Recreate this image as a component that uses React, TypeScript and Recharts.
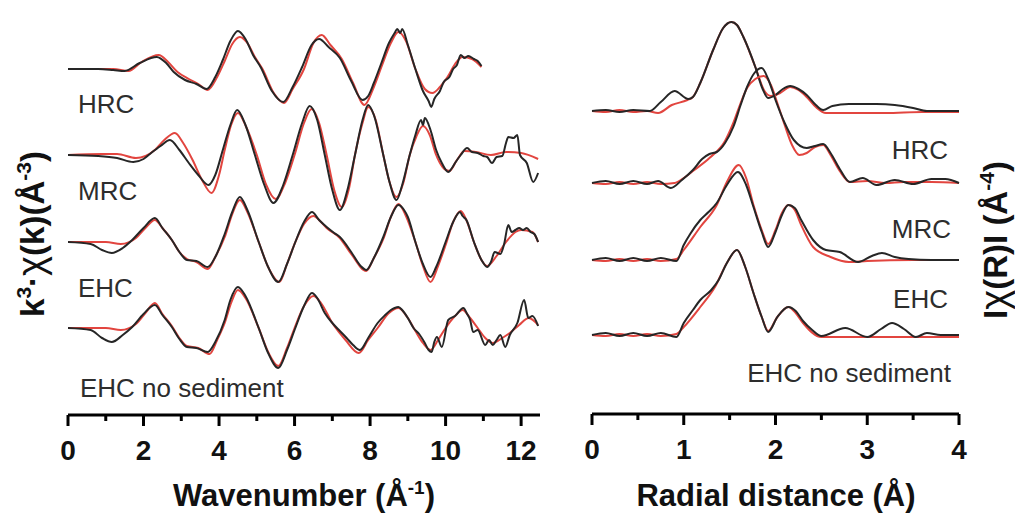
import React from "react";
import { LineChart, Line, XAxis, YAxis } from "recharts";

type Pt = [number, number];

const samples = ["HRC", "MRC", "EHC", "EHC no sediment"];

// vertical offsets used to stack the spectra (arbitrary units)
const kOffsets = [346, 260, 173, 87];
const rOffsets = [303, 231, 154, 79];

const kTicks = [0, 1, 2, 3, 4, 5, 6, 7, 8, 9, 10, 11, 12];
const kLabels = [0, 2, 4, 6, 8, 10, 12];
const rTicks = [0, 0.5, 1, 1.5, 2, 2.5, 3, 3.5, 4];
const rLabels = [0, 1, 2, 3, 4];

// k^3 chi(k), data (black) and fit (red)
const hrcK: Pt[] = [[0,0],[0.8,0],[1.2,-1],[1.5,-2],[1.9,6],[2.35,12],[2.6,6],[2.8,-3],[3.1,-11],[3.4,-15],[3.67,-20],[3.9,-8],[4.1,9],[4.3,28],[4.5,38],[4.7,30],[4.9,14],[5.1,2],[5.4,-22],[5.7,-33],[5.95,-18],[6.2,2],[6.45,24],[6.65,30],[6.9,22],[7.2,11],[7.5,-12],[7.8,-31],[7.95,-27],[8.1,-14],[8.3,6],[8.5,26],[8.65,36],[8.72,40],[8.8,36],[8.85,40],[9.0,24],[9.2,0],[9.4,-22],[9.55,-32],[9.62,-38],[9.7,-30],[9.85,-22],[9.95,-13],[10.1,-8],[10.2,0],[10.3,4],[10.4,14],[10.5,11],[10.6,13],[10.75,10],[10.85,8],[10.95,3]];
const hrcKFit: Pt[] = [[0,0],[1.2,0],[1.6,-2],[1.95,7],[2.4,14],[2.65,7],[2.9,-3],[3.2,-10],[3.45,-15],[3.7,-21],[3.95,-8],[4.15,8],[4.35,25],[4.55,32],[4.75,26],[4.95,12],[5.15,0],[5.45,-24],[5.72,-34],[5.95,-20],[6.25,0],[6.5,26],[6.72,34],[6.95,24],[7.25,10],[7.55,-14],[7.85,-36],[8.1,-18],[8.3,2],[8.55,26],[8.75,37],[8.95,28],[9.2,0],[9.45,-20],[9.65,-24],[9.85,-18],[10.05,-8],[10.25,5],[10.45,12],[10.7,10],[10.95,2]];

const mrcK: Pt[] = [[0,0],[0.8,-1],[1.3,-3],[1.73,-7],[2.0,-4],[2.2,2],[2.45,9],[2.7,15],[2.95,5],[3.2,-8],[3.45,-20],[3.72,-30],[3.9,-20],[4.1,5],[4.3,30],[4.48,45],[4.7,30],[4.95,0],[5.2,-30],[5.44,-48],[5.7,-30],[5.95,0],[6.2,32],[6.4,49],[6.6,35],[6.8,0],[7.0,-35],[7.2,-55],[7.4,-35],[7.6,0],[7.8,35],[7.95,50],[8.1,40],[8.35,0],[8.5,-25],[8.7,-45],[8.85,-30],[9.05,0],[9.2,20],[9.35,35],[9.4,30],[9.45,37],[9.6,25],[9.75,5],[9.9,-8],[10.07,-17],[10.15,-14],[10.25,-8],[10.4,0],[10.57,7],[10.7,3],[10.85,2],[11.0,-1],[11.1,-2],[11.23,-8],[11.35,-2],[11.5,-1],[11.6,12],[11.66,18],[11.8,17],[11.9,20],[11.97,0],[12.15,-8],[12.32,-27],[12.45,-18]];
const mrcKFit: Pt[] = [[0,0],[0.9,1],[1.3,1],[1.8,-3],[2.3,5],[2.55,15],[2.83,22],[3.05,12],[3.3,-5],[3.55,-25],[3.8,-38],[4.0,-20],[4.15,5],[4.32,30],[4.5,42],[4.72,28],[5.0,0],[5.25,-30],[5.5,-44],[5.75,-28],[6.0,0],[6.25,32],[6.45,46],[6.65,32],[6.85,0],[7.05,-35],[7.25,-52],[7.45,-32],[7.6,0],[7.8,32],[7.95,48],[8.15,35],[8.35,0],[8.5,-25],[8.7,-42],[8.88,-28],[9.05,0],[9.22,18],[9.4,29],[9.58,20],[9.75,0],[9.92,-12],[10.1,-16],[10.3,-5],[10.5,4],[10.8,3],[11.2,0],[11.6,3],[12.0,2],[12.45,-4]];

const ehcK: Pt[] = [[0,0],[0.6,-2],[0.9,-8],[1.16,-11],[1.45,-6],[1.7,2],[2.0,14],[2.3,24],[2.5,14],[2.75,2],[2.95,-10],[3.15,-18],[3.4,-19],[3.7,-25],[3.9,-15],[4.15,8],[4.35,30],[4.55,45],[4.75,32],[5.05,0],[5.3,-25],[5.57,-40],[5.8,-22],[6.0,-2],[6.25,20],[6.46,30],[6.65,22],[6.85,15],[7.05,9],[7.2,5],[7.5,-10],[7.75,-24],[7.9,-28],[8.1,-16],[8.35,5],[8.55,25],[8.75,37],[8.9,32],[9.0,25],[9.2,0],[9.4,-22],[9.6,-35],[9.75,-25],[10.0,0],[10.2,20],[10.38,30],[10.45,26],[10.55,22],[10.75,0],[10.95,-18],[11.1,-25],[11.2,-20],[11.3,-10],[11.45,-12],[11.55,-2],[11.66,17],[11.75,10],[11.85,12],[11.95,14],[12.05,12],[12.15,14],[12.25,10],[12.35,8],[12.45,0]];
const ehcKFit: Pt[] = [[0,0],[1.0,0],[1.4,-2],[1.8,4],[2.05,14],[2.3,22],[2.5,14],[2.75,2],[2.95,-10],[3.15,-17],[3.4,-20],[3.7,-27],[3.9,-15],[4.15,5],[4.35,28],[4.55,42],[4.75,30],[5.05,0],[5.3,-25],[5.6,-40],[5.8,-22],[6.0,-2],[6.25,18],[6.5,26],[6.7,20],[6.85,14],[7.2,4],[7.5,-12],[7.9,-29],[8.1,-16],[8.35,3],[8.55,25],[8.75,38],[8.95,26],[9.2,0],[9.4,-24],[9.6,-40],[9.8,-24],[10.0,-3],[10.2,20],[10.4,31],[10.55,22],[10.75,0],[10.95,-18],[11.1,-24],[11.35,-14],[11.6,0],[11.85,10],[12.0,12],[12.3,10],[12.45,0]];

const ehcNsK: Pt[] = [[0,0],[0.6,-2],[0.9,-10],[1.16,-14],[1.45,-7],[1.7,1],[2.0,14],[2.3,23],[2.5,13],[2.75,1],[2.95,-11],[3.15,-19],[3.4,-20],[3.7,-24],[3.9,-14],[4.15,8],[4.3,28],[4.5,41],[4.7,32],[5.05,0],[5.3,-25],[5.57,-40],[5.8,-22],[6.0,-2],[6.25,22],[6.46,35],[6.6,30],[6.8,15],[7.0,5],[7.2,-3],[7.38,-10],[7.55,-17],[7.73,-22],[7.95,-10],[8.2,5],[8.4,13],[8.55,18],[8.65,20],[8.75,21],[8.85,18],[9.0,10],[9.15,0],[9.3,-6],[9.45,-15],[9.55,-22],[9.63,-24],[9.7,-14],[9.77,-9],[9.9,-19],[10.07,8],[10.25,12],[10.47,20],[10.57,14],[10.65,8],[10.73,-4],[10.85,-2],[11.05,-17],[11.15,-12],[11.25,-17],[11.35,-12],[11.45,-7],[11.58,-19],[11.7,-7],[11.9,5],[12.08,28],[12.19,10],[12.3,12],[12.45,2]];
const ehcNsKFit: Pt[] = [[0,0],[1.0,0],[1.4,-2],[1.8,4],[2.05,15],[2.3,25],[2.5,14],[2.75,2],[2.95,-10],[3.15,-18],[3.45,-20],[3.75,-26],[3.95,-12],[4.15,5],[4.32,25],[4.5,38],[4.7,30],[5.05,0],[5.3,-24],[5.57,-38],[5.8,-20],[6.0,0],[6.25,22],[6.5,32],[6.7,25],[7.0,5],[7.35,-12],[7.7,-25],[7.95,-12],[8.2,0],[8.5,15],[8.75,20],[9.0,10],[9.2,-3],[9.4,-15],[9.6,-22],[9.8,-12],[10.0,0],[10.25,12],[10.45,18],[10.65,10],[10.85,0],[11.05,-10],[11.25,-15],[11.5,-10],[11.7,-5],[11.95,3],[12.2,10],[12.45,3]];

// |chi(R)|, data (black) and fit (red)
const hrcR: Pt[] = [[0,0],[0.15,1],[0.3,-1],[0.45,1],[0.63,0],[0.75,9],[0.9,20],[1.05,12],[1.1,14],[1.18,28],[1.32,61],[1.43,83],[1.52,89],[1.58,86],[1.65,74],[1.78,44],[1.86,22],[1.92,13],[2.0,16],[2.08,22],[2.16,25],[2.25,22],[2.34,16],[2.44,6],[2.52,1],[2.62,5],[2.8,7],[3.1,7],[3.3,6],[3.5,3],[3.65,0],[4.0,0]];
const hrcRFit: Pt[] = [[0,0],[0.15,-1],[0.3,1],[0.45,-1],[0.6,0],[0.72,-2],[0.87,6],[1.04,11],[1.1,14],[1.18,28],[1.32,61],[1.43,83],[1.52,89],[1.58,86],[1.65,74],[1.78,44],[1.88,20],[1.95,15],[2.05,18],[2.16,24],[2.25,21],[2.34,14],[2.44,4],[2.55,-2],[2.8,-2],[3.2,-2],[3.6,-1],[4.0,-1]];

const mrcR: Pt[] = [[0,0],[0.15,2],[0.3,-1],[0.45,2],[0.6,-1],[0.72,2],[0.86,-5],[0.98,3],[1.1,13],[1.2,24],[1.28,29],[1.36,31],[1.45,40],[1.54,56],[1.62,78],[1.69,96],[1.77,110],[1.85,115],[1.92,104],[2.0,83],[2.1,60],[2.2,43],[2.34,35],[2.43,37],[2.52,39],[2.6,30],[2.7,14],[2.81,1],[2.95,5],[3.1,-2],[3.3,3],[3.5,-1],[3.7,4],[3.85,4],[4.0,0]];
const mrcRFit: Pt[] = [[0,0],[0.15,-1],[0.3,1],[0.45,-1],[0.6,1],[0.75,-1],[0.9,0],[1.0,5],[1.1,12],[1.28,25],[1.45,42],[1.54,60],[1.62,80],[1.69,95],[1.78,104],[1.87,107],[1.95,98],[2.02,80],[2.1,58],[2.18,38],[2.26,28],[2.34,30],[2.43,36],[2.52,38],[2.6,28],[2.7,12],[2.81,1],[3.0,2],[3.2,0],[3.4,1],[3.7,1],[4.0,0]];

const ehcR: Pt[] = [[0,0],[0.15,2],[0.3,-1],[0.45,2],[0.6,-1],[0.75,2],[0.92,-1],[1.0,15],[1.07,26],[1.18,40],[1.27,48],[1.36,57],[1.47,75],[1.59,88],[1.68,75],[1.76,53],[1.85,28],[1.92,13],[2.0,28],[2.07,45],[2.14,55],[2.21,52],[2.28,40],[2.41,20],[2.55,10],[2.7,8],[2.9,-2],[3.05,4],[3.16,7],[3.3,3],[3.45,1],[3.7,0],[4.0,0]];
const ehcRFit: Pt[] = [[0,0],[0.15,-1],[0.3,1],[0.45,-1],[0.6,1],[0.75,-1],[0.92,1],[1.0,10],[1.18,33],[1.36,55],[1.47,78],[1.6,95],[1.68,82],[1.76,55],[1.85,30],[1.92,16],[2.0,30],[2.07,47],[2.14,55],[2.21,50],[2.28,35],[2.41,13],[2.6,3],[2.8,-2],[3.0,-1],[3.5,0],[4.0,0]];

const ehcNsR: Pt[] = [[0,0],[0.15,2],[0.3,-1],[0.45,2],[0.6,-1],[0.75,2],[0.92,-2],[1.0,12],[1.1,25],[1.18,35],[1.3,45],[1.38,55],[1.47,72],[1.58,85],[1.67,68],[1.76,42],[1.85,18],[1.92,3],[2.02,18],[2.14,28],[2.22,24],[2.3,14],[2.4,5],[2.5,-1],[2.76,7],[3.0,-2],[3.15,6],[3.27,12],[3.4,6],[3.53,-2],[3.65,2],[3.8,0],[4.0,0]];
const ehcNsRFit: Pt[] = [[0,0],[0.15,-1],[0.3,1],[0.45,-1],[0.6,1],[0.75,-1],[0.92,1],[1.0,8],[1.18,28],[1.34,48],[1.47,72],[1.58,85],[1.67,68],[1.76,42],[1.85,18],[1.92,4],[2.02,18],[2.14,28],[2.22,22],[2.3,12],[2.5,-2],[3.0,-2],[3.5,-2],[4.0,-2]];

const kData = [hrcK, mrcK, ehcK, ehcNsK];
const kFit = [hrcKFit, mrcKFit, ehcKFit, ehcNsKFit];
const rData = [hrcR, mrcR, ehcR, ehcNsR];
const rFit = [hrcRFit, mrcRFit, ehcRFit, ehcNsRFit];

const FONT = "'Liberation Sans', Arial, Helvetica, sans-serif";
const DATA_COLOR = "#262626";
const FIT_COLOR = "#e2453f";

const withOffset = (pts: Pt[], off: number) => pts.map(([x, v]) => ({ x, y: v + off }));

function AxisTick(props: any) {
  const { x, y, payload, labels } = props;
  const major = labels.includes(payload.value);
  return (
    <g>
      <line x1={x} x2={x} y1={y} y2={y + (major ? 11 : 6)} stroke="#000" strokeWidth={3} />
      {major && (
        <text x={x} y={y + 45} textAnchor="middle" fontSize={28} fontWeight="bold" fill="#111" fontFamily={FONT}>
          {payload.value}
        </text>
      )}
    </g>
  );
}

function renderLines(data: Pt[][], fit: Pt[][], offsets: number[], prefix: string) {
  const out: React.ReactNode[] = [];
  samples.forEach((s, i) => {
    out.push(
      <Line key={`${prefix}-fit-${s}`} data={withOffset(fit[i], offsets[i])} dataKey="y" type="monotone"
        stroke={FIT_COLOR} strokeWidth={2} dot={false} isAnimationActive={false} />
    );
    out.push(
      <Line key={`${prefix}-data-${s}`} data={withOffset(data[i], offsets[i])} dataKey="y" type="monotone"
        stroke={DATA_COLOR} strokeWidth={2} dot={false} isAnimationActive={false} />
    );
  });
  return out;
}

export default function App() {
  const label = { fontFamily: FONT, fontSize: 26, fill: "#2d2d2d" };
  return (
    <div style={{ position: "absolute", left: 0, top: 0, width: 1015, height: 519, background: "#fff", fontFamily: FONT }}>
      <div style={{ position: "absolute", left: 0, top: 0 }}>
        <LineChart width={560} height={519} margin={{ top: 15, right: 20, bottom: 0, left: 68 }}>
          <XAxis type="number" dataKey="x" domain={[0, 12.5]} ticks={kTicks} interval={0} height={104}
            tickLine={false} tickSize={0} tickMargin={0} axisLine={{ stroke: "#000", strokeWidth: 3 }}
            tick={(p: any) => <AxisTick {...p} labels={kLabels} />} />
          <YAxis type="number" domain={[0, 400]} width={0} tick={false} tickLine={false}
            axisLine={{ stroke: "#000", strokeWidth: 3 }} />
          {renderLines(kData, kFit, kOffsets, "k")}
        </LineChart>
      </div>
      <div style={{ position: "absolute", left: 560, top: 0 }}>
        <LineChart width={455} height={519} margin={{ top: 12, right: 56, bottom: 0, left: 32 }}>
          <XAxis type="number" dataKey="x" domain={[0, 4]} ticks={rTicks} interval={0} height={105}
            tickLine={false} tickSize={0} tickMargin={0} axisLine={{ stroke: "#000", strokeWidth: 3 }}
            tick={(p: any) => <AxisTick {...p} labels={rLabels} />} />
          <YAxis type="number" orientation="right" domain={[0, 402]} width={0} tick={false} tickLine={false}
            axisLine={{ stroke: "#000", strokeWidth: 3 }} />
          {renderLines(rData, rFit, rOffsets, "r")}
        </LineChart>
      </div>
      <svg width={1015} height={519} style={{ position: "absolute", left: 0, top: 0, pointerEvents: "none" }}>
        <text x={78} y={113} {...label}>{samples[0]}</text>
        <text x={78} y={200} {...label}>{samples[1]}</text>
        <text x={78} y={297} {...label}>{samples[2]}</text>
        <text x={80} y={397} {...label}>{samples[3]}</text>

        <text x={948} y={159} textAnchor="end" {...label}>{samples[0]}</text>
        <text x={951} y={238} textAnchor="end" {...label}>{samples[1]}</text>
        <text x={948} y={308} textAnchor="end" {...label}>{samples[2]}</text>
        <text x={951} y={382} textAnchor="end" {...label}>{samples[3]}</text>

        <text x={304} y={506} textAnchor="middle" fontFamily={FONT} fontSize={31} fontWeight="bold" fill="#111">
          Wavenumber (Å<tspan dy={-12} fontSize={19}>-1</tspan><tspan dy={12}>)</tspan>
        </text>
        <text x={776} y={506} textAnchor="middle" fontFamily={FONT} fontSize={31} fontWeight="bold" fill="#111">
          Radial distance (Å)
        </text>

        <text transform="translate(44,234) rotate(-90)" textAnchor="middle" fontFamily={FONT} fontSize={33} fontWeight="bold" fill="#111">
          k<tspan dy={-13} fontSize={21}>3</tspan><tspan dy={13}>·</tspan><tspan fontWeight="normal" fontSize={38}>χ</tspan>(k)(Å<tspan dy={-13} fontSize={21}>-3</tspan><tspan dy={13}>)</tspan>
        </text>
        <text transform="translate(1007,240) rotate(-90)" textAnchor="middle" fontFamily={FONT} fontSize={33} fontWeight="bold" fill="#111">
          I<tspan fontWeight="normal" fontSize={38}>χ</tspan>(R)I (Å<tspan dy={-13} fontSize={21}>-4</tspan><tspan dy={13}>)</tspan>
        </text>
      </svg>
    </div>
  );
}
